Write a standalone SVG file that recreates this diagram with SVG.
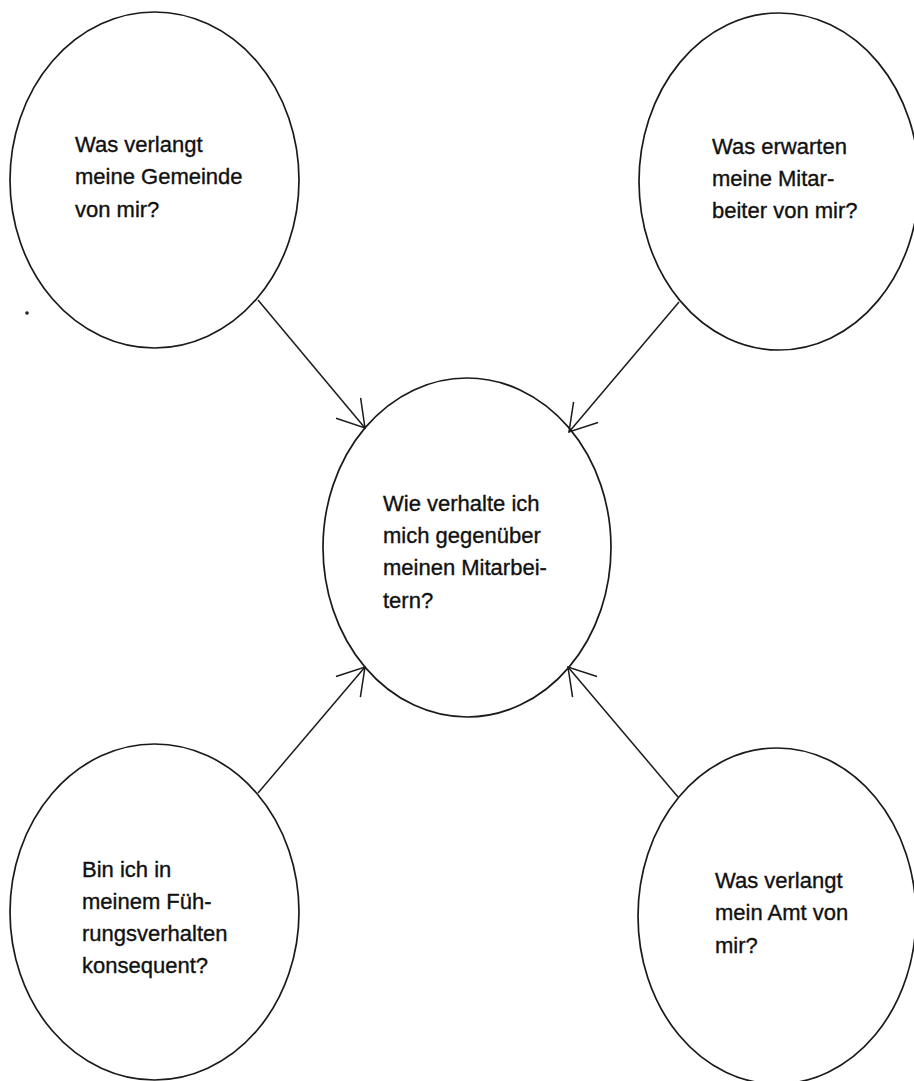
<svg xmlns="http://www.w3.org/2000/svg" width="914" height="1081" viewBox="0 0 914 1081">
<style>
.node ellipse{fill:none;stroke:#1a1a1a;stroke-width:1.7}
.node text{font-family:"Liberation Sans",Arial,sans-serif;font-size:22px;fill:#111;stroke:#111;stroke-width:0.35}
.conn line{stroke:#1a1a1a;stroke-width:1.5}
</style>
<defs>
<marker id="arr" markerUnits="userSpaceOnUse" markerWidth="40" markerHeight="40" viewBox="-32 -20 36 40" refX="0" refY="0" orient="auto">
<path d="M -26 -16 L 0 0 L -26 16" fill="none" stroke="#1a1a1a" stroke-width="1.5"/>
</marker>
</defs>
<rect width="914" height="1081" fill="#fff"/>
<g id="n-gemeinde" class="node">
<ellipse cx="154.5" cy="180" rx="144.5" ry="168"/>
<text x="75" y="152">Was verlangt</text>
<text x="75" y="184">meine Gemeinde</text>
<text x="75" y="217">von mir?</text>
</g>
<g id="n-mitarbeiter" class="node">
<ellipse cx="779" cy="181.5" rx="140" ry="168.5"/>
<text x="712" y="154">Was erwarten</text>
<text x="712" y="186">meine Mitar-</text>
<text x="712" y="218">beiter von mir?</text>
</g>
<g id="n-center" class="node">
<ellipse cx="467" cy="547.5" rx="144" ry="169.5"/>
<text x="383" y="511">Wie verhalte ich</text>
<text x="383" y="543">mich gegenüber</text>
<text x="383" y="575">meinen Mitarbei-</text>
<text x="383" y="608">tern?</text>
</g>
<g id="n-fuehrung" class="node">
<ellipse cx="154.5" cy="912" rx="144.5" ry="168"/>
<text x="82" y="877">Bin ich in</text>
<text x="82" y="909">meinem Füh-</text>
<text x="82" y="941">rungsverhalten</text>
<text x="82" y="973">konsequent?</text>
</g>
<g id="n-amt" class="node">
<ellipse cx="777" cy="916" rx="139" ry="168"/>
<text x="715" y="888">Was verlangt</text>
<text x="715" y="920">mein Amt von</text>
<text x="715" y="953">mir?</text>
</g>
<g id="connectors" class="conn">
<line x1="258" y1="300" x2="365" y2="428" marker-end="url(#arr)"/>
<line x1="679" y1="302" x2="569" y2="432" marker-end="url(#arr)"/>
<line x1="258" y1="793" x2="365" y2="667" marker-end="url(#arr)"/>
<line x1="678" y1="797" x2="568" y2="667" marker-end="url(#arr)"/>
</g>
<circle cx="27" cy="313" r="1.8" fill="#222"/>
</svg>
